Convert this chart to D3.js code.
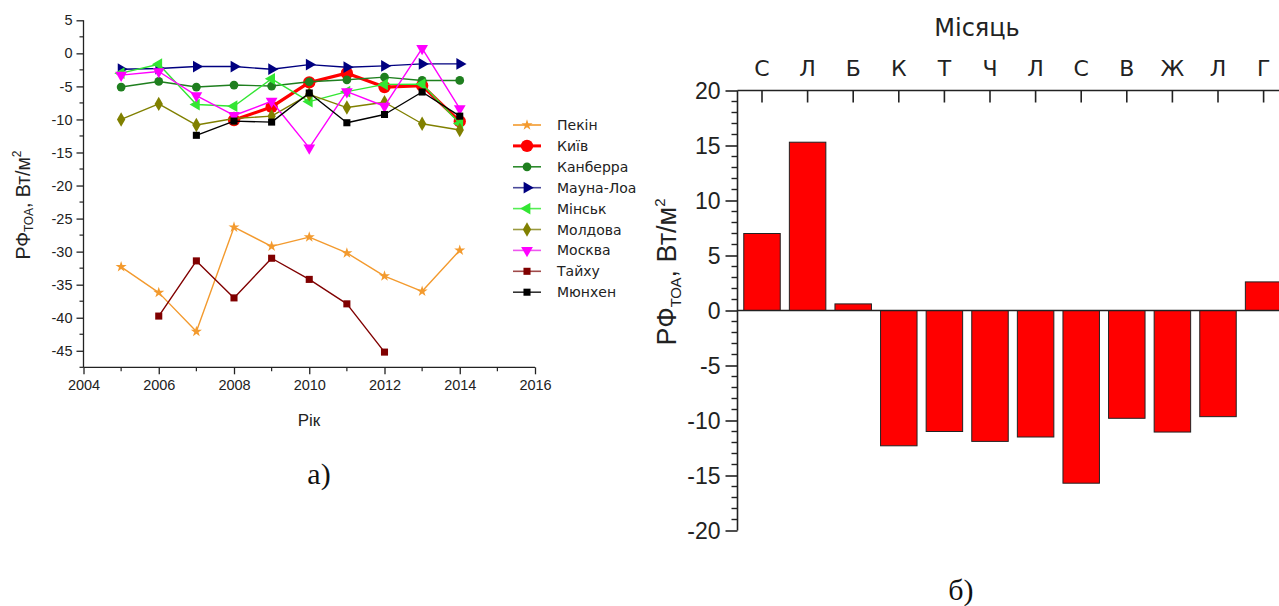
<!DOCTYPE html>
<html>
<head>
<meta charset="utf-8">
<script src="https://cdn.jsdelivr.net/npm/d3@7/dist/d3.min.js"></script>
<style>
  html, body { margin: 0; padding: 0; background: #fff; }
  svg { display: block; }
</style>
</head>
<body>
<svg id="chart" width="1279" height="606"></svg>
<script>
// ---- Panel (а): radiative forcing by site and year ----
const years = [2005, 2006, 2007, 2008, 2009, 2010, 2011, 2012, 2013, 2014];
const pekin     = [-32.3, -36.2, -42.1, -26.3, -29.2, -27.8, -30.2, -33.7, -36.0, -29.8];
const kyiv      = [null, null, null, -10.1, -8.1, -4.4, -3.0, -5.1, -4.9, -10.3];
const canberra  = [-5.1, -4.25, -5.1, -4.8, -4.95, -4.3, -4.0, -3.6, -4.1, -4.1];
const maunaLoa  = [-2.4, -2.3, -2.0, -2.0, -2.4, -1.7, -2.1, -1.9, -1.6, -1.6];
const minsk     = [-3.0, -1.65, -7.75, -8.0, -3.85, -7.3, -5.8, -4.7, -4.65, -10.6];
const moldova   = [-10.0, -7.65, -10.85, -9.85, -9.5, -6.2, -8.2, -7.4, -10.65, -11.6];
const moscow    = [-3.3, -2.75, -6.4, -9.4, -7.25, -14.3, -5.8, -8.0, 0.75, -8.35];
const taihu     = [null, -39.75, -31.4, -37.0, -31.0, -34.2, -37.9, -45.2, null, null];
const munich    = [null, null, -12.4, -10.25, -10.4, -6.0, -10.5, -9.25, -5.85, -9.5];

const siteNames = ["Пекін", "Київ", "Канберра", "Мауна-Лоа", "Мінськ", "Молдова", "Москва", "Тайху", "Мюнхен"];
const yearTicks = [2004, 2006, 2008, 2010, 2012, 2014, 2016];
const forcingTicks = [-45, -40, -35, -30, -25, -20, -15, -10, -5, 0, 5];

// ---- Panel (б): monthly radiative forcing ----
const monthLabels = ["С", "Л", "Б", "К", "Т", "Ч", "Л", "С", "В", "Ж", "Л", "Г"];
const monthlyForcing = [7.0, 15.3, 0.6, -12.3, -11.0, -11.9, -11.5, -15.7, -9.8, -11.05, -9.65, 2.6];
const monthlyTicks = [-20, -15, -10, -5, 0, 5, 10, 15, 20];

const svg = d3.select("#chart");
const sans = "'Liberation Sans', Arial, sans-serif";
const dejavu = "'DejaVu Sans', sans-serif";
const plain = d => String(d);   // hyphen-minus labels

// Series styling
const seriesDefs = [
  { name: siteNames[0], values: pekin,    color: "#f39a2e", symbol: d3.symbolStar,     size: 38,  rot: 0,   width: 1.4 },
  { name: siteNames[1], values: kyiv,     color: "#ff0000", symbol: d3.symbolCircle,   size: 120, rot: 0,   width: 3.2 },
  { name: siteNames[2], values: canberra, color: "#1f7f1f", symbol: d3.symbolCircle,   size: 60,  rot: 0,   width: 1.4 },
  { name: siteNames[3], values: maunaLoa, color: "#000080", symbol: d3.symbolTriangle, size: 60,  rot: 90,  width: 1.4 },
  { name: siteNames[4], values: minsk,    color: "#33e633", symbol: d3.symbolTriangle, size: 60,  rot: -90, width: 1.4 },
  { name: siteNames[5], values: moldova,  color: "#808000", symbol: d3.symbolDiamond,  size: 60,  rot: 0,   width: 1.4 },
  { name: siteNames[6], values: moscow,   color: "#ff00ff", symbol: d3.symbolTriangle, size: 60,  rot: 180, width: 1.4 },
  { name: siteNames[7], values: taihu,    color: "#800000", symbol: d3.symbolSquare,   size: 50,  rot: 0,   width: 1.4 },
  { name: siteNames[8], values: munich,   color: "#000000", symbol: d3.symbolSquare,   size: 50,  rot: 0,   width: 1.4 }
];
// Legend line colours are slightly lighter than the marker colours
const legendLine = ["#f39a2e", "#ff0000", "#2e8b2e", "#4a4a9a", "#55ee55", "#9a9a40", "#ee55ee", "#a04a4a", "#333333"];

// ---------------- Panel (а) ----------------
const x = d3.scaleLinear().domain([2004, 2016]).range([83.5, 535]);
const y = d3.scaleLinear().domain([-47.5, 5]).range([367.3, 20.3]);

const gA = svg.append("g");

// y axis
const yAxis = d3.axisLeft(y).tickValues(forcingTicks).tickSize(7).tickPadding(4).tickFormat(plain);
const yAx = gA.append("g").attr("transform", `translate(${x(2004)},0)`).call(yAxis);
yAx.select(".domain").attr("stroke", "#222").attr("stroke-width", 1.3).attr("d", `M0,${y(-47.5)}V${y(5)}`);
yAx.selectAll(".tick line").attr("stroke", "#222").attr("stroke-width", 1.3);
yAx.selectAll(".tick text").attr("font-family", sans).attr("font-size", 14.5).attr("fill", "#222");
// minor ticks
gA.append("g").selectAll("line")
  .data(d3.range(-47.5, 5, 5))
  .join("line")
  .attr("x1", x(2004) - 4).attr("x2", x(2004))
  .attr("y1", d => y(d)).attr("y2", d => y(d))
  .attr("stroke", "#222").attr("stroke-width", 1.2);

// x axis
const xAxis = d3.axisBottom(x).tickValues(yearTicks).tickSize(7).tickPadding(5).tickFormat(plain);
const xAx = gA.append("g").attr("transform", `translate(0,${y(-47.5)})`).call(xAxis);
xAx.select(".domain").attr("stroke", "#222").attr("stroke-width", 1.3).attr("d", `M${x(2004)},0H${x(2016)}`);
xAx.selectAll(".tick line").attr("stroke", "#222").attr("stroke-width", 1.3);
xAx.selectAll(".tick text").attr("font-family", sans).attr("font-size", 14.5).attr("fill", "#222");
gA.append("g").selectAll("line")
  .data(d3.range(2005, 2016, 2))
  .join("line")
  .attr("x1", d => x(d)).attr("x2", d => x(d))
  .attr("y1", y(-47.5)).attr("y2", y(-47.5) + 4)
  .attr("stroke", "#222").attr("stroke-width", 1.2);

// axis titles
gA.append("text").attr("x", 309).attr("y", 426).attr("text-anchor", "middle")
  .attr("font-family", sans).attr("font-size", 17).attr("fill", "#222").text("Рік");

const yTitleA = gA.append("text")
  .attr("transform", "translate(30,205) rotate(-90)")
  .attr("text-anchor", "middle").attr("font-family", sans).attr("font-size", 19.5).attr("fill", "#222");
yTitleA.append("tspan").text("РФ");
yTitleA.append("tspan").attr("font-size", 12).attr("dy", 3).text("ТОА");
yTitleA.append("tspan").attr("dy", -3).text(", Вт/м");
yTitleA.append("tspan").attr("font-size", 12).attr("dy", -9).text("2");

// series lines and markers
const line = d3.line()
  .defined(d => d.v !== null)
  .x(d => x(d.year))
  .y(d => y(d.v));

function symbolPath(def) {
  return d3.symbol().type(def.symbol).size(def.size)();
}

seriesDefs.forEach(def => {
  const pts = years.map((yr, i) => ({ year: yr, v: def.values[i] }));
  const g = gA.append("g");
  g.append("path").datum(pts).attr("d", line)
    .attr("fill", "none").attr("stroke", def.color).attr("stroke-width", def.width)
    .attr("stroke-linejoin", "round");
  g.selectAll("path.mk").data(pts.filter(p => p.v !== null)).join("path")
    .attr("class", "mk")
    .attr("d", symbolPath(def))
    .attr("transform", p => `translate(${x(p.year)},${y(p.v)}) rotate(${def.rot})`)
    .attr("fill", def.color);
});

// legend
const legend = gA.append("g");
seriesDefs.forEach((def, i) => {
  const ly = 125 + i * 20.9;
  const lg = legend.append("g").attr("transform", `translate(0,${ly})`);
  lg.append("line").attr("x1", 513).attr("x2", 541).attr("y1", 0).attr("y2", 0)
    .attr("stroke", legendLine[i]).attr("stroke-width", def.width === 1.4 ? 1.6 : 3);
  lg.append("path").attr("d", symbolPath(def))
    .attr("transform", `translate(527,0) rotate(${def.rot})`)
    .attr("fill", def.color);
  lg.append("text").attr("x", 557).attr("y", 5)
    .attr("font-family", dejavu).attr("font-size", 14).attr("fill", "#222").text(def.name);
});

// caption
svg.append("text").attr("x", 319).attr("y", 484).attr("text-anchor", "middle")
  .attr("font-family", "'Liberation Serif', serif").attr("font-size", 30).attr("fill", "#111").text("а)");

// ---------------- Panel (б) ----------------
const xb = d3.scaleBand().domain(d3.range(monthLabels.length))
  .range([739.2, 1286.4]).paddingInner(0.2).paddingOuter(0.1);
const yb = d3.scaleLinear().domain([-20, 20]).range([530.5, 90.5]);
const axisX = 737.5;

const gB = svg.append("g");

// bars
gB.selectAll("rect.bar").data(monthlyForcing).join("rect")
  .attr("class", "bar")
  .attr("x", (d, i) => xb(i))
  .attr("width", xb.bandwidth())
  .attr("y", d => yb(Math.max(0, d)))
  .attr("height", d => Math.abs(yb(d) - yb(0)))
  .attr("fill", "#ff0000")
  .attr("stroke", "#222").attr("stroke-width", 1);

// zero line
gB.append("line").attr("x1", axisX).attr("x2", 1279).attr("y1", yb(0)).attr("y2", yb(0))
  .attr("stroke", "#222").attr("stroke-width", 1.3);

// left axis
const ybAxis = d3.axisLeft(yb).tickValues(monthlyTicks).tickSize(12).tickPadding(5).tickFormat(plain);
const ybAx = gB.append("g").attr("transform", `translate(${axisX},0)`).call(ybAxis);
ybAx.select(".domain").attr("stroke", "#222").attr("stroke-width", 1.6).attr("d", `M0,${yb(-20)}V${yb(20)}`);
ybAx.selectAll(".tick line").attr("stroke", "#222").attr("stroke-width", 1.6);
ybAx.selectAll(".tick text").attr("font-family", sans).attr("font-size", 23).attr("fill", "#222").attr("dy", "0.34em");
gB.append("g").selectAll("line")
  .data(d3.range(-20, 21, 1).filter(v => v % 5 !== 0))
  .join("line")
  .attr("x1", axisX - 6).attr("x2", axisX)
  .attr("y1", d => yb(d)).attr("y2", d => yb(d))
  .attr("stroke", "#222").attr("stroke-width", 1.4);

// top category axis
const xbAxis = d3.axisTop(xb).tickSize(0).tickPadding(0).tickFormat(i => monthLabels[i]);
const xbAx = gB.append("g").attr("transform", `translate(0,${yb(20)})`).call(xbAxis);
xbAx.select(".domain").attr("stroke", "#222").attr("stroke-width", 1.6).attr("d", `M${axisX},0H1279`);
xbAx.selectAll(".tick line").remove();
xbAx.selectAll(".tick text").attr("font-family", dejavu).attr("font-size", 22).attr("fill", "#222").attr("y", -15);
gB.append("g").selectAll("line")
  .data(d3.range(monthLabels.length))
  .join("line")
  .attr("x1", i => xb(i) + xb.bandwidth() / 2).attr("x2", i => xb(i) + xb.bandwidth() / 2)
  .attr("y1", yb(20)).attr("y2", yb(20) + 12)
  .attr("stroke", "#222").attr("stroke-width", 1.6);

gB.append("text").attr("x", 977).attr("y", 36).attr("text-anchor", "middle")
  .attr("font-family", dejavu).attr("font-size", 24).attr("fill", "#222").text("Місяць");

const yTitleB = gB.append("text")
  .attr("transform", "translate(676,272) rotate(-90)")
  .attr("text-anchor", "middle").attr("font-family", sans).attr("font-size", 27).attr("fill", "#222");
yTitleB.append("tspan").text("РФ");
yTitleB.append("tspan").attr("font-size", 15).attr("dy", 5).text("ТОА");
yTitleB.append("tspan").attr("dy", -5).text(", Вт/м");
yTitleB.append("tspan").attr("font-size", 15).attr("dy", -11).text("2");

svg.append("text").attr("x", 961).attr("y", 600).attr("text-anchor", "middle")
  .attr("font-family", "'Liberation Serif', serif").attr("font-size", 30).attr("fill", "#111").text("б)");
</script>
</body>
</html>
